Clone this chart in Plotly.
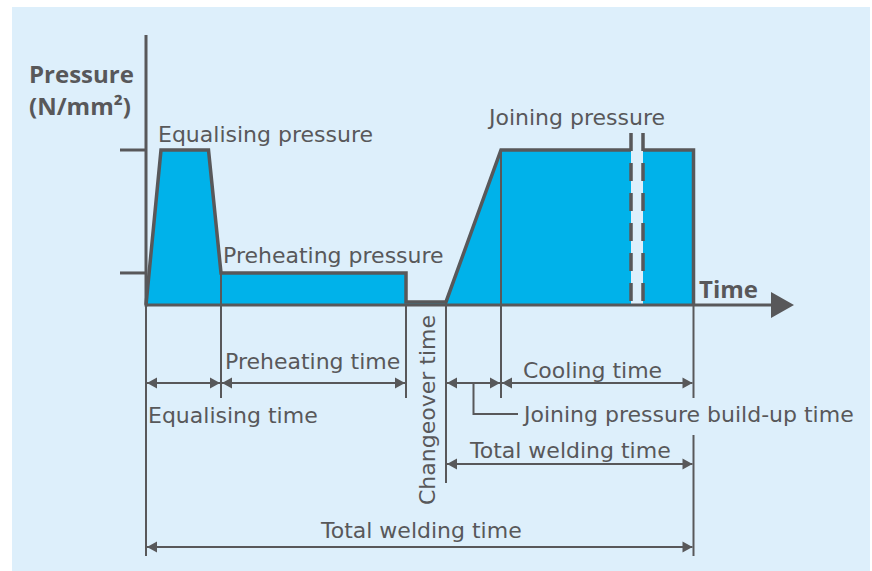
import numpy as np
import plotly.graph_objects as go

# ---- schematic data -------------------------------------------------------
# Phase boundaries along the time axis (schematic seconds)
phase_bounds = [0, 15, 52, 60, 71, 109.5]
# Pressure profile vertices (time, pressure in N/mm²)
profile_t = [0, 3, 12.5, 15, 52, 52, 60, 71, 109.5, 109.5]
profile_p = [0, 0.15, 0.15, 0.031, 0.031, 0.003, 0.003, 0.15, 0.15, 0]
# Pressure levels marked on the y axis
tick_p = [0.15, 0.031]
# Broken section of the time axis (dashed)
break_t = [97, 99.4]

pressure_labels = ["Equalising pressure", "Preheating pressure", "Joining pressure"]
time_labels = ["Equalising time", "Preheating time", "Changeover time",
               "Joining pressure build-up time", "Cooling time", "Total welding time"]

# ---- canvas / scale helpers ----------------------------------------------
W, H = 872, 571
X0_PX, PX_PER_S = 146, 5.0
Y0_PX, PX_PER_P = 305, 155 / 0.15
GREY = "#58585a"
FILL = "#00b2ea"
PANEL = "#ddeffb"
FONT = "DejaVu Sans"
FONT_BOLD = "Open Sans"


def px_to_t(px):
    return (px - X0_PX) / PX_PER_S


def py_to_p(py):
    return (Y0_PX - py) / PX_PER_P


def dt(px):
    return px / PX_PER_S


def dp(px):
    return px / PX_PER_P


fig = go.Figure()

# ---- filled pressure profile, split at the axis break ----------------------
t_arr = np.array(profile_t, dtype=float)
p_arr = np.array(profile_p, dtype=float)
p_break = float(np.interp(break_t[0], t_arr[6:9], p_arr[6:9]))

left_t = [t for t in profile_t if t < break_t[0]] + [break_t[0]]
left_p = [p for t, p in zip(profile_t, profile_p) if t < break_t[0]] + [p_break]
right_t = [break_t[1]] + [t for t in profile_t if t > break_t[1]]
right_p = [p_break] + [p for t, p in zip(profile_t, profile_p) if t > break_t[1]]

for ts, ps in ((left_t, left_p), (right_t, right_p)):
    fig.add_trace(go.Scatter(
        x=ts + [ts[-1], ts[0]], y=ps + [0, 0], mode="lines", fill="toself",
        fillcolor=FILL, line=dict(width=0), hoverinfo="skip", showlegend=False))

# outline of the profile
fig.add_trace(go.Scatter(
    x=left_t + [None] + right_t, y=left_p + [None] + right_p, mode="lines",
    line=dict(color=GREY, width=3.5), hoverinfo="skip", showlegend=False))

# dashed break lines
for tb in break_t:
    fig.add_trace(go.Scatter(
        x=[tb, tb], y=[py_to_p(133), 0], mode="lines",
        line=dict(color=GREY, width=3.5, dash="18px,12px"),
        hoverinfo="skip", showlegend=False))

# ---- extension lines from the profile down to the dimension rows ----------
ROW1, ROW2, ROW3 = 383, 464, 547
ext = [
    (phase_bounds[0], 0, 556),
    (phase_bounds[1], np.interp(phase_bounds[1], t_arr[:5], p_arr[:5]), 398),
    (phase_bounds[2], 0, 398),
    (phase_bounds[3], profile_p[6], 483),
    (phase_bounds[4], np.interp(phase_bounds[4], t_arr[6:9], p_arr[6:9]), 398),
    (phase_bounds[5], 0, 398),
]
for t, p_top, py_bot in ext:
    fig.add_shape(type="line", xref="x", yref="y", x0=t, x1=t, y0=p_top,
                  y1=py_to_p(py_bot), line=dict(color=GREY, width=2))
fig.add_shape(type="line", xref="x", yref="y", x0=phase_bounds[5], x1=phase_bounds[5],
              y0=py_to_p(435), y1=py_to_p(556), line=dict(color=GREY, width=2))

# ---- axes -----------------------------------------------------------------
fig.add_shape(type="line", xref="x", yref="y", x0=0, x1=0, y0=-dp(1.5),
              y1=py_to_p(35), line=dict(color=GREY, width=3))
fig.add_shape(type="line", xref="x", yref="y", x0=0, x1=px_to_t(775), y0=0, y1=0,
              line=dict(color=GREY, width=3))
for p in tick_p:
    fig.add_shape(type="line", xref="x", yref="y", x0=px_to_t(120), x1=0, y0=p, y1=p,
                  line=dict(color=GREY, width=3))

# arrowheads: x axis + dimension arrows
head_x, head_y = [], []
tip = px_to_t(794)
head_x += [tip, tip - dt(23), tip - dt(23), tip, None]
head_y += [0, dp(13), -dp(13), 0, None]

dims = [
    (phase_bounds[0], phase_bounds[1], ROW1),
    (phase_bounds[1], phase_bounds[2], ROW1),
    (phase_bounds[3], phase_bounds[4], ROW1),
    (phase_bounds[4], phase_bounds[5], ROW1),
    (phase_bounds[3], phase_bounds[5], ROW2),
    (phase_bounds[0], phase_bounds[5], ROW3),
]
L, HH = 10, 5.5
for t0, t1, row in dims:
    y = py_to_p(row)
    a, b = t0 + dt(1), t1 - dt(1)
    fig.add_shape(type="line", xref="x", yref="y", x0=a, x1=b, y0=y, y1=y,
                  line=dict(color=GREY, width=2))
    head_x += [a, a + dt(L), a + dt(L), a, None, b, b - dt(L), b - dt(L), b, None]
    head_y += [y, y + dp(HH), y - dp(HH), y, None, y, y + dp(HH), y - dp(HH), y, None]

fig.add_trace(go.Scatter(x=head_x, y=head_y, mode="lines", fill="toself",
                         fillcolor=GREY, line=dict(width=0, color=GREY),
                         hoverinfo="skip", showlegend=False))

# leader for the build-up time label
mid = (phase_bounds[3] + phase_bounds[4]) / 2
fig.add_shape(type="path", xref="x", yref="y",
              path=f"M{mid},{py_to_p(ROW1)} L{mid},{py_to_p(414)} L{px_to_t(518)},{py_to_p(414)}",
              line=dict(color=GREY, width=2))

# ---- text -----------------------------------------------------------------
def label(text, px, py, size=22, bold=False, anchor="left", angle=0):
    fig.add_annotation(
        text=text, xref="paper", yref="paper", x=px / W, y=1 - py / H,
        xanchor=anchor, yanchor="middle", showarrow=False, textangle=angle,
        font=dict(family=FONT_BOLD if bold else FONT, size=size, color=GREY,
                  weight="bold" if bold else "normal"))


label("Pressure", 27, 73, size=24, bold=True)
label("(N/mm²)", 27, 105, size=24, bold=True)
label("Time", 697, 288, size=24, bold=True)

label(pressure_labels[0], 156, 134)
label(pressure_labels[1], 221, 255)
label(pressure_labels[2], 485, 117)

label(time_labels[1], 223, 361)
label(time_labels[0], 146, 415)
label(time_labels[2], 427, 410, anchor="center", angle=-90)
label(time_labels[4], 521, 370)
label(time_labels[3], 520, 414)
label(time_labels[5], 467, 450)
label(time_labels[5], 421, 530, anchor="center")

# ---- layout ---------------------------------------------------------------
fig.add_shape(type="rect", xref="paper", yref="paper", x0=12 / W, x1=870 / W,
              y0=0, y1=1 - 7 / H, fillcolor=PANEL, line=dict(width=0), layer="below")

fig.update_layout(
    width=W, height=H, margin=dict(l=0, r=0, t=0, b=0),
    paper_bgcolor="white", plot_bgcolor="rgba(0,0,0,0)",
    xaxis=dict(range=[px_to_t(0), px_to_t(W)], visible=False, fixedrange=True),
    yaxis=dict(range=[py_to_p(H), py_to_p(0)], visible=False, fixedrange=True),
    showlegend=False,
)

fig.write_html("out.html")
